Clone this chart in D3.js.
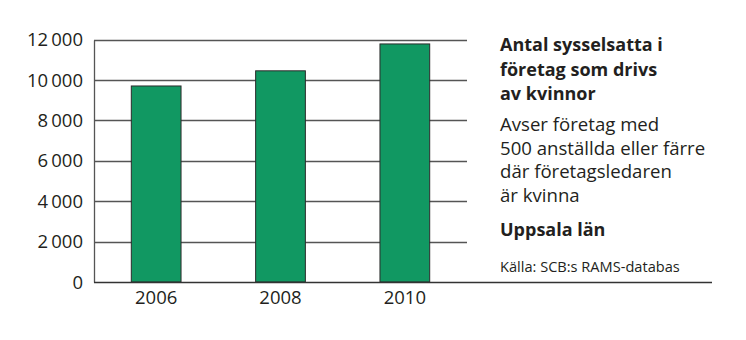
<!DOCTYPE html>
<html>
<head>
<meta charset="utf-8">
<script src="https://cdn.jsdelivr.net/npm/d3@7"></script>
<style>
  body { margin: 0; background: #fff; }
  svg { display: block; font-family: "Open Sans", sans-serif; }
</style>
</head>
<body>
<div id="chart"></div>
<script>
var years = ["2006", "2008", "2010"];
var employed = [9700, 10450, 11780];
var yTicks = [0, 2000, 4000, 6000, 8000, 10000, 12000];

var titleLines = ["Antal sysselsatta i", "företag som drivs", "av kvinnor"];
var noteLines = ["Avser företag med", "500 anställda eller färre", "där företagsledaren", "är kvinna"];
var regionLabel = "Uppsala län";
var sourceLabel = "Källa: SCB:s RAMS-databas";

var width = 746, height = 340;
var margin = {top: 39.5, left: 94, bottom: 58};
var plotRight = 467;
var baselineRight = 712;
var textColor = "#231f20";

var svg = d3.select("#chart").append("svg")
    .attr("width", width)
    .attr("height", height);

var y = d3.scaleLinear()
    .domain([0, 12000])
    .range([height - margin.bottom, margin.top]);

var x = d3.scaleBand()
    .domain(years)
    .range([margin.left, plotRight])
    .paddingInner(0.6)
    .paddingOuter(0.3);

var fmt = d3.formatLocale({decimal: ",", thousands: "\u2009", grouping: [3], currency: ["", " kr"]}).format(",d");

// gridlines (skip zero, drawn separately as the long baseline)
svg.append("g")
    .selectAll("line")
    .data(yTicks.filter(function(d) { return d > 0; }))
    .enter().append("line")
    .attr("x1", margin.left)
    .attr("x2", plotRight)
    .attr("y1", function(d) { return Math.round(y(d)) + 0.5; })
    .attr("y2", function(d) { return Math.round(y(d)) + 0.5; })
    .attr("stroke", "#555")
    .attr("stroke-width", 1.3);

// left axis line
svg.append("line")
    .attr("x1", margin.left + 0.5)
    .attr("x2", margin.left + 0.5)
    .attr("y1", Math.round(y(12000)) + 0.5)
    .attr("y2", Math.round(y(0)) + 0.5)
    .attr("stroke", "#555")
    .attr("stroke-width", 1.3);

// bars
svg.append("g")
    .selectAll("rect")
    .data(years)
    .enter().append("rect")
    .attr("x", function(d) { return x(d); })
    .attr("y", function(d, i) { return y(employed[i]); })
    .attr("width", x.bandwidth())
    .attr("height", function(d, i) { return y(0) - y(employed[i]); })
    .attr("fill", "#119862")
    .attr("stroke", "#2b2b2b")
    .attr("stroke-width", 1);

// baseline, runs under the text column too
svg.append("line")
    .attr("x1", margin.left)
    .attr("x2", baselineRight)
    .attr("y1", Math.round(y(0)) + 0.5)
    .attr("y2", Math.round(y(0)) + 0.5)
    .attr("stroke", "#333")
    .attr("stroke-width", 1.3);

// y tick labels
svg.append("g")
    .selectAll("text")
    .data(yTicks)
    .enter().append("text")
    .attr("x", margin.left - 11)
    .attr("y", function(d) { return y(d); })
    .attr("dy", "0.36em")
    .attr("text-anchor", "end")
    .style("font-size", "18.5px")
    .style("fill", textColor)
    .text(function(d) { return fmt(d); });

// x labels
svg.append("g")
    .selectAll("text")
    .data(years)
    .enter().append("text")
    .attr("x", function(d) { return x(d) + x.bandwidth() / 2; })
    .attr("y", 304)
    .attr("text-anchor", "middle")
    .style("font-size", "18.5px")
    .style("fill", textColor)
    .text(function(d) { return d; });

// text column
var tx = 500;
var side = svg.append("g").style("fill", textColor);

side.selectAll(".title")
    .data(titleLines)
    .enter().append("text")
    .attr("class", "title")
    .attr("x", tx)
    .attr("y", function(d, i) { return 51 + i * 24.5; })
    .style("font-size", "18px")
    .style("font-weight", "700")
    .text(function(d) { return d; });

side.selectAll(".note")
    .data(noteLines)
    .enter().append("text")
    .attr("class", "note")
    .attr("x", tx)
    .attr("y", function(d, i) { return 131 + i * 23.6; })
    .style("font-size", "18.6px")
    .text(function(d) { return d; });

side.append("text")
    .attr("x", tx)
    .attr("y", 235.5)
    .style("font-size", "18px")
    .style("font-weight", "700")
    .text(regionLabel);

side.append("text")
    .attr("x", tx)
    .attr("y", 271.5)
    .style("font-size", "14.6px")
    .text(sourceLabel);
</script>
</body>
</html>
